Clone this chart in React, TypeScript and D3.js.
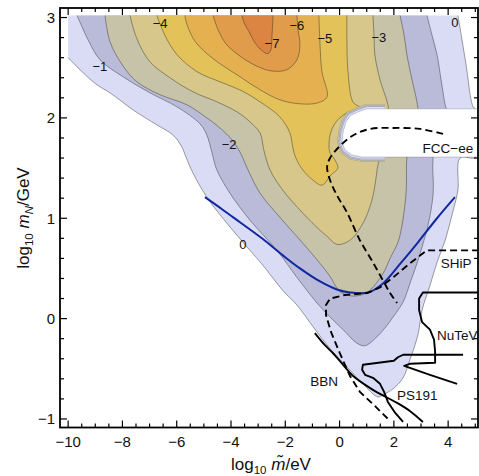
import React from "react";
import * as d3 from "d3";

type P = [number, number];

// ---------- axes ----------
const xTickValues = [-10, -8, -6, -4, -2, 0, 2, 4];
const yTickValues = [-1, 0, 1, 2, 3];
const xMinorStep = 0.5;
const yMinorStep = 0.2;

// ---------- contour levels (region value <= level), outer to inner ----------
const contourLevels = [0, -1, -2, -3, -4, -5, -6, -7];
const bandColors = ["#dadcf5", "#b9bbd9", "#c6c3a9", "#d7c78a", "#e4c25a", "#e5b04f", "#e09c4a", "#dc8543"];

const level0: P[] = [[4.36, 3.02], [4.51, 2.78], [4.66, 2.53], [4.92, 2.11], [5.03, 2.08], [5.03, 1.61], [4.44, 1.6], [4.36, 1.28], [4.14, 1.03], [3.89, 0.78], [3.59, 0.56], [3.33, 0.33], [3.04, 0.085], [2.89, -0.16], [2.59, -0.41], [2.34, -0.59], [1.97, -0.7], [1.6, -0.76], [1.41, -0.78], [0.86, -0.65], [0.27, -0.48], [-0.35, -0.3], [-0.98, -0.08], [-1.57, 0.135], [-2.09, 0.28], [-2.82, 0.53], [-3.3, 0.68], [-4.15, 0.95], [-4.89, 1.21], [-5.4, 1.45], [-5.66, 1.61], [-5.81, 1.71], [-6.14, 1.83], [-6.73, 1.93], [-7.61, 2.08], [-8.46, 2.25], [-8.94, 2.33], [-9.45, 2.45], [-10, 2.6]];
const level1: P[] = [[3.22, 3.02], [3.41, 2.82], [3.59, 2.63], [3.74, 2.38], [3.89, 2.13], [3.96, 2.06], [3.7, 1.83], [3.45, 1.61], [3.45, 1.25], [3.26, 0.93], [3.11, 0.78], [2.89, 0.58], [2.63, 0.38], [2.34, 0.165], [1.97, 0.015], [1.71, -0.08], [1.38, -0.18], [0.94, -0.27], [0.64, -0.245], [0.13, -0.11], [-0.35, 0.015], [-0.83, 0.155], [-1.2, 0.28], [-1.57, 0.41], [-2.31, 0.68], [-3.3, 0.98], [-4.04, 1.25], [-4.52, 1.48], [-4.7, 1.65], [-4.89, 1.83], [-5.14, 1.94], [-5.99, 2.11], [-6.99, 2.25], [-7.98, 2.41], [-8.83, 2.58], [-9.27, 2.78], [-9.67, 3.02]];
const level2: P[] = [[2.23, 3.02], [2.38, 2.82], [2.48, 2.63], [2.67, 2.38], [2.85, 2.16], [2.89, 2.06], [2.59, 1.78], [2.48, 1.61], [2.45, 1.25], [2.3, 0.93], [2.15, 0.76], [1.86, 0.6], [1.6, 0.45], [1.01, 0.26], [0.46, 0.225], [0.01, 0.27], [-0.35, 0.42], [-0.72, 0.55], [-1.35, 0.75], [-2.2, 1.01], [-2.93, 1.25], [-3.37, 1.48], [-3.67, 1.66], [-3.96, 1.78], [-4.41, 1.9], [-4.89, 2.0], [-5.62, 2.13], [-6.61, 2.23], [-7.47, 2.36], [-8.01, 2.53], [-8.46, 2.76], [-8.64, 3.02]];
const level3: P[] = [[1.23, 3.02], [1.27, 2.82], [1.3, 2.63], [1.49, 2.38], [1.75, 2.16], [1.78, 2.08], [1.3, 2.06], [0.75, 2.03], [0.38, 1.98], [0.16, 1.88], [0.13, 1.76], [0.31, 1.66], [0.68, 1.61], [1.41, 1.6], [1.38, 1.48], [1.19, 1.18], [0.86, 0.95], [0.38, 0.78], [-0.1, 0.74], [-0.46, 0.82], [-0.72, 0.88], [-1.35, 1.05], [-2.09, 1.28], [-2.56, 1.48], [-2.79, 1.68], [-2.93, 1.85], [-3.3, 1.96], [-3.78, 2.06], [-4.52, 2.16], [-5.4, 2.26], [-6.25, 2.4], [-6.99, 2.56], [-7.47, 2.79], [-7.72, 3.02]];
const level4: P[] = [[0.27, 3.02], [0.27, 2.78], [0.31, 2.46], [0.49, 2.16], [0.75, 2.1], [0.27, 2.05], [-0.1, 1.97], [-0.32, 1.86], [-0.39, 1.73], [-0.35, 1.65], [-0.17, 1.58], [-0.06, 1.5], [-0.32, 1.43], [-0.65, 1.33], [-0.98, 1.38], [-1.35, 1.48], [-1.61, 1.6], [-1.72, 1.7], [-1.83, 1.85], [-2.2, 2.01], [-2.93, 2.16], [-3.6, 2.27], [-4.41, 2.36], [-5.25, 2.46], [-5.99, 2.63], [-6.43, 2.82], [-6.73, 3.02]];
const level5: P[] = [[-0.76, 3.02], [-0.72, 2.73], [-0.65, 2.46], [-0.46, 2.21], [-0.8, 2.15], [-1.46, 2.14], [-2.2, 2.18], [-2.93, 2.28], [-3.67, 2.41], [-4.66, 2.59], [-5.32, 2.76], [-5.62, 2.93], [-5.7, 3.02]];
const level6: P[] = [[-1.57, 3.02], [-1.53, 2.88], [-1.46, 2.73], [-1.57, 2.58], [-1.94, 2.48], [-2.56, 2.47], [-3.23, 2.54], [-3.74, 2.63], [-4.19, 2.74], [-4.48, 2.88], [-4.66, 3.02]];
const level7: P[] = [[-2.45, 3.02], [-2.49, 2.82], [-2.53, 2.68], [-2.64, 2.64], [-2.86, 2.67], [-3.12, 2.75], [-3.34, 2.86], [-3.52, 2.95], [-3.6, 3.02]];
const contourLines: P[][] = [level0, level1, level2, level3, level4, level5, level6, level7];
const closingCorners: P[][] = [[[-10, 3.02]], [], [], [], [], [], [], []];

// excluded FCC-ee notch
const notchOutline: P[] = [[5.54, 2.09], [1.67, 2.09], [1.01, 2.09], [0.68, 2.06], [0.38, 2.02], [0.24, 1.96], [0.13, 1.86], [0.09, 1.76], [0.2, 1.68], [0.46, 1.63], [0.83, 1.61], [1.67, 1.61], [5.54, 1.61]];

// ---------- overlay curves ----------
const blueCurve: P[] = [[-4.96, 1.21], [-4.33, 1.09], [-3.67, 0.96], [-2.86, 0.8], [-2.09, 0.63], [-1.46, 0.5], [-0.72, 0.37], [-0.1, 0.29], [0.38, 0.26], [1.05, 0.26], [1.6, 0.35], [2.23, 0.545], [2.89, 0.76], [3.56, 0.99], [4.25, 1.21]];
const fccCurve: P[] = [[3.81, 1.84], [2.96, 1.89], [1.97, 1.9], [1.12, 1.89], [0.46, 1.82], [-0.06, 1.7], [-0.35, 1.6], [-0.46, 1.51], [-0.35, 1.38], [-0.1, 1.23], [0.27, 1.06], [0.75, 0.78], [1.23, 0.56], [1.6, 0.38], [1.86, 0.255], [2.12, 0.155]];
const shipCurve: P[] = [[5.14, 0.68], [3.22, 0.68], [2.59, 0.55], [1.97, 0.41], [1.49, 0.31], [1.01, 0.255], [0.2, 0.235], [-0.35, 0.2], [-0.5, 0.135], [-0.5, 0.035], [-0.32, -0.13], [0.01, -0.345], [0.38, -0.57], [0.75, -0.73], [1.3, -0.87], [1.86, -1.02]];
const nutevCurve: P[] = [[5.14, 0.26], [3.07, 0.26], [2.93, 0.2], [2.93, 0.085], [3.04, -0.035], [3.33, -0.11], [3.48, -0.21], [3.52, -0.33], [3.52, -0.44], [2.59, -0.45], [2.38, -0.47], [3.33, -0.56], [4.33, -0.65]];
const ps191Curve: P[] = [[4.55, -0.36], [2.34, -0.36], [2.15, -0.385], [2.0, -0.42], [0.86, -0.46], [0.83, -0.51], [0.94, -0.56], [1.23, -0.59], [1.49, -0.65], [1.64, -0.73], [1.78, -0.83], [2.05, -0.94], [2.34, -1.03]];
const bbnCurve: P[] = [[-0.91, -0.145], [-0.54, -0.265], [-0.24, -0.345], [0.13, -0.46], [0.49, -0.57], [1.23, -0.71], [2.12, -0.84], [2.59, -0.92], [3.07, -1.03]];

const contourLabels = [
  { text: "\u22121", x: -8.83, y: 2.51 },
  { text: "\u22124", x: -6.61, y: 2.94 },
  { text: "\u22127", x: -2.49, y: 2.74 },
  { text: "\u22126", x: -1.57, y: 2.92 },
  { text: "\u22125", x: -0.54, y: 2.79 },
  { text: "\u22123", x: 1.45, y: 2.8 },
  { text: "0", x: 4.25, y: 2.95 },
  { text: "\u22122", x: -4.07, y: 1.74 },
  { text: "0", x: -3.56, y: 0.74 },
];
const experimentLabels = [
  { text: "FCC\u2212ee", x: 3.99, y: 1.7, anchor: "middle" },
  { text: "SHiP", x: 4.29, y: 0.55, anchor: "middle" },
  { text: "NuTeV", x: 3.59, y: -0.16, anchor: "start" },
  { text: "BBN", x: -0.57, y: -0.62, anchor: "middle" },
  { text: "PS191", x: 2.86, y: -0.76, anchor: "middle" },
];

const W = 479;
const H = 476;
const FONT = "'Liberation Sans', Arial, Helvetica, sans-serif";

export default function App() {
  const left = 60, right = 478, top = 8, bottom = 427.5;
  const x = d3.scaleLinear().domain([-10.3, 5.1]).range([left, right]);
  const y = d3.scaleLinear().domain([-1.085, 3.095]).range([bottom, top]);

  const smooth = d3
    .line<P>()
    .x((d) => x(d[0]))
    .y((d) => y(d[1]))
    .curve(d3.curveCatmullRom.alpha(0.5));
  const straight = d3
    .line<P>()
    .x((d) => x(d[0]))
    .y((d) => y(d[1]));

  const fillPath = (pts: P[], corners: P[]) =>
    (smooth(pts) || "") + corners.map((c) => `L${x(c[0])},${y(c[1])}`).join("") + "Z";

  const xMinor = d3.range(-10, 5.01, xMinorStep).filter((v) => Math.abs(v / 2 - Math.round(v / 2)) > 1e-6);
  const yMinor = d3.range(-1, 3.01, yMinorStep).filter((v) => Math.abs(v - Math.round(v)) > 1e-6);

  const notchTip = straight(notchOutline.slice(1, -1)) || "";
  const lineStroke = "rgba(40,40,40,0.55)";
  const thinStroke = "rgba(60,60,80,0.35)";

  return (
    <svg width={W} height={H} style={{ display: "block", position: "absolute", left: 0, top: 0 }} fontFamily={FONT}>
      <defs>
        <clipPath id="plotClip">
          <rect x={left} y={top} width={right - left} height={bottom - top} />
        </clipPath>
      </defs>
      <rect x={0} y={0} width={W} height={H} fill="#fff" />
      <g clipPath="url(#plotClip)">
        {contourLines.map((pts, i) => (
          <g key={"lv" + contourLevels[i]}>
            <path d={fillPath(pts, closingCorners[i])} fill={bandColors[i]} stroke="none" />
            <path d={smooth(pts) || ""} fill="none" stroke={lineStroke} strokeWidth={0.8} />
          </g>
        ))}
        {/* excluded notch with thin dense bands at its tip */}
        <path d={notchTip} fill="none" stroke={thinStroke} strokeWidth={9.6} />
        <path d={notchTip} fill="none" stroke={bandColors[2]} strokeWidth={9} />
        <path d={notchTip} fill="none" stroke={thinStroke} strokeWidth={6.8} />
        <path d={notchTip} fill="none" stroke={bandColors[1]} strokeWidth={6.3} />
        <path d={notchTip} fill="none" stroke={thinStroke} strokeWidth={4} />
        <path d={notchTip} fill="none" stroke={bandColors[0]} strokeWidth={3.5} />
        <path d={(straight(notchOutline) || "") + "Z"} fill="#fff" stroke={thinStroke} strokeWidth={0.7} />

        <path d={smooth(blueCurve) || ""} fill="none" stroke="#1228a0" strokeWidth={2} />
        <path d={smooth(fccCurve) || ""} fill="none" stroke="#000" strokeWidth={1.9} strokeDasharray="7,4" />
        <path d={straight(shipCurve) || ""} fill="none" stroke="#000" strokeWidth={1.9} strokeDasharray="7,4" />
        <path d={straight(nutevCurve) || ""} fill="none" stroke="#000" strokeWidth={1.9} strokeLinejoin="round" />
        <path d={straight(ps191Curve) || ""} fill="none" stroke="#000" strokeWidth={1.9} strokeLinejoin="round" />
        <path d={smooth(bbnCurve) || ""} fill="none" stroke="#000" strokeWidth={1.9} />

        {contourLabels.map((l, i) => (
          <text key={"cl" + i} x={x(l.x)} y={y(l.y)} dy="0.36em" textAnchor="middle" fontSize={13} fill="#111">
            {l.text}
          </text>
        ))}
        {experimentLabels.map((l, i) => (
          <text key={"el" + i} x={x(l.x)} y={y(l.y)} dy="0.36em" textAnchor={l.anchor as any} fontSize={13.5} fill="#111">
            {l.text}
          </text>
        ))}
      </g>

      {/* frame */}
      <rect x={left} y={top} width={right - left} height={bottom - top} fill="none" stroke="#000" strokeWidth={1.8} />

      {/* ticks */}
      <g stroke="#000" strokeWidth={1.2}>
        {xTickValues.map((v) => (
          <g key={"xt" + v}>
            <line x1={x(v)} x2={x(v)} y1={bottom} y2={bottom - 7} />
            <line x1={x(v)} x2={x(v)} y1={top} y2={top + 7} />
          </g>
        ))}
        {xMinor.map((v) => (
          <g key={"xm" + v}>
            <line x1={x(v)} x2={x(v)} y1={bottom} y2={bottom - 4} />
            <line x1={x(v)} x2={x(v)} y1={top} y2={top + 4} />
          </g>
        ))}
        {yTickValues.map((v) => (
          <g key={"yt" + v}>
            <line x1={left} x2={left + 7} y1={y(v)} y2={y(v)} />
            <line x1={right} x2={right - 7} y1={y(v)} y2={y(v)} />
          </g>
        ))}
        {yMinor.map((v) => (
          <g key={"ym" + v}>
            <line x1={left} x2={left + 4} y1={y(v)} y2={y(v)} />
            <line x1={right} x2={right - 4} y1={y(v)} y2={y(v)} />
          </g>
        ))}
      </g>

      {/* tick labels */}
      {xTickValues.map((v) => (
        <text key={"xl" + v} x={x(v)} y={bottom + 19} textAnchor="middle" fontSize={15} fill="#111">
          {v < 0 ? "\u2212" + Math.abs(v) : String(v)}
        </text>
      ))}
      {yTickValues.map((v) => (
        <text key={"yl" + v} x={left - 5} y={y(v)} dy="0.36em" textAnchor="end" fontSize={15} fill="#111">
          {v < 0 ? "\u2212" + Math.abs(v) : String(v)}
        </text>
      ))}

      {/* axis titles */}
      <text x={271} y={470} textAnchor="middle" fontSize={17} fill="#111">
        log<tspan fontSize={11.5} dy={4}>10</tspan>
        <tspan dy={-4}> </tspan>
        <tspan fontStyle="italic">m̃</tspan>
        <tspan>/eV</tspan>
      </text>
      <text transform={`translate(29,218) rotate(-90)`} textAnchor="middle" fontSize={17} fill="#111">
        log<tspan fontSize={11.5} dy={4}>10</tspan>
        <tspan dy={-4}> </tspan>
        <tspan fontStyle="italic">m</tspan>
        <tspan fontStyle="italic" fontSize={11.5} dy={4}>N</tspan>
        <tspan dy={-4}>/GeV</tspan>
      </text>
    </svg>
  );
}
